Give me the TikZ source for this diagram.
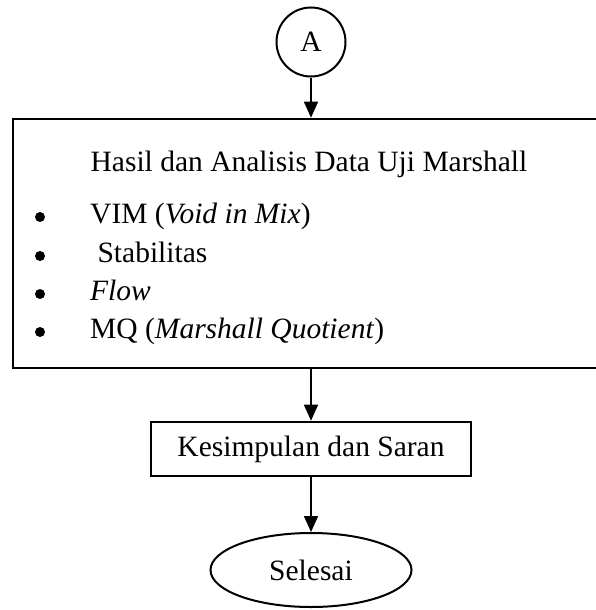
\documentclass[tikz,border=0pt]{standalone}
\usepackage{fontspec}
\setmainfont{Liberation Serif}
\usetikzlibrary{arrows.meta,shapes.geometric}

\tikzset{
  txt/.style={font=\fontsize{29.5}{35}\selectfont, inner sep=0pt},
  frame/.style={draw, line width=2.6pt, inner sep=0pt},
  arr/.style={line width=1.6pt, -{Triangle[width=14pt,length=16pt]}},
  bulletdot/.style={fill, circle, minimum size=10pt, inner sep=0pt},
}

\begin{document}
\begin{tikzpicture}[x=1pt, y=-1pt]
  \useasboundingbox (0,0) rectangle (595,610);

  % connector circle
  \node[draw, circle, line width=2pt, minimum size=69pt, inner sep=0pt, txt] (A) at (311,42) {A};

  % results box (runs past the right margin)
  \node[frame, minimum width=587pt, minimum height=249pt] (hasil) at (306.5,243.5) {};
  \node[txt, anchor=base] (judul) at (309,171) {Hasil dan Analisis Data Uji Marshall};

  \node[bulletdot] (b1) at (40,217) {};
  \node[bulletdot] (b2) at (40,256) {};
  \node[bulletdot] (b3) at (40,294) {};
  \node[bulletdot] (b4) at (40,332) {};
  \node[txt, anchor=base west] (i1) at (90,223) {VIM (\textit{Void in Mix})};
  \node[txt, anchor=base west] (i2) at (90,262) {\ Stabilitas};
  \node[txt, anchor=base west] (i3) at (90,300) {\textit{Flow}};
  \node[txt, anchor=base west] (i4) at (90,338) {MQ (\textit{Marshall Quotient})};

  % conclusion box and terminator
  \node[frame, txt, minimum width=320pt, minimum height=54pt] (saran) at (311,449) {Kesimpulan dan Saran};
  \node[draw, ellipse, line width=2pt, minimum width=201pt, minimum height=74pt, inner sep=0pt, txt] (selesai) at (311,570) {Selesai};

  % flow
  \draw[arr] (A.south) -- (A.south |- hasil.north);
  \draw[arr] (hasil.south -| saran.north) -- (saran.north);
  \draw[arr] (saran.south) -- (selesai.north);
\end{tikzpicture}
\end{document}
